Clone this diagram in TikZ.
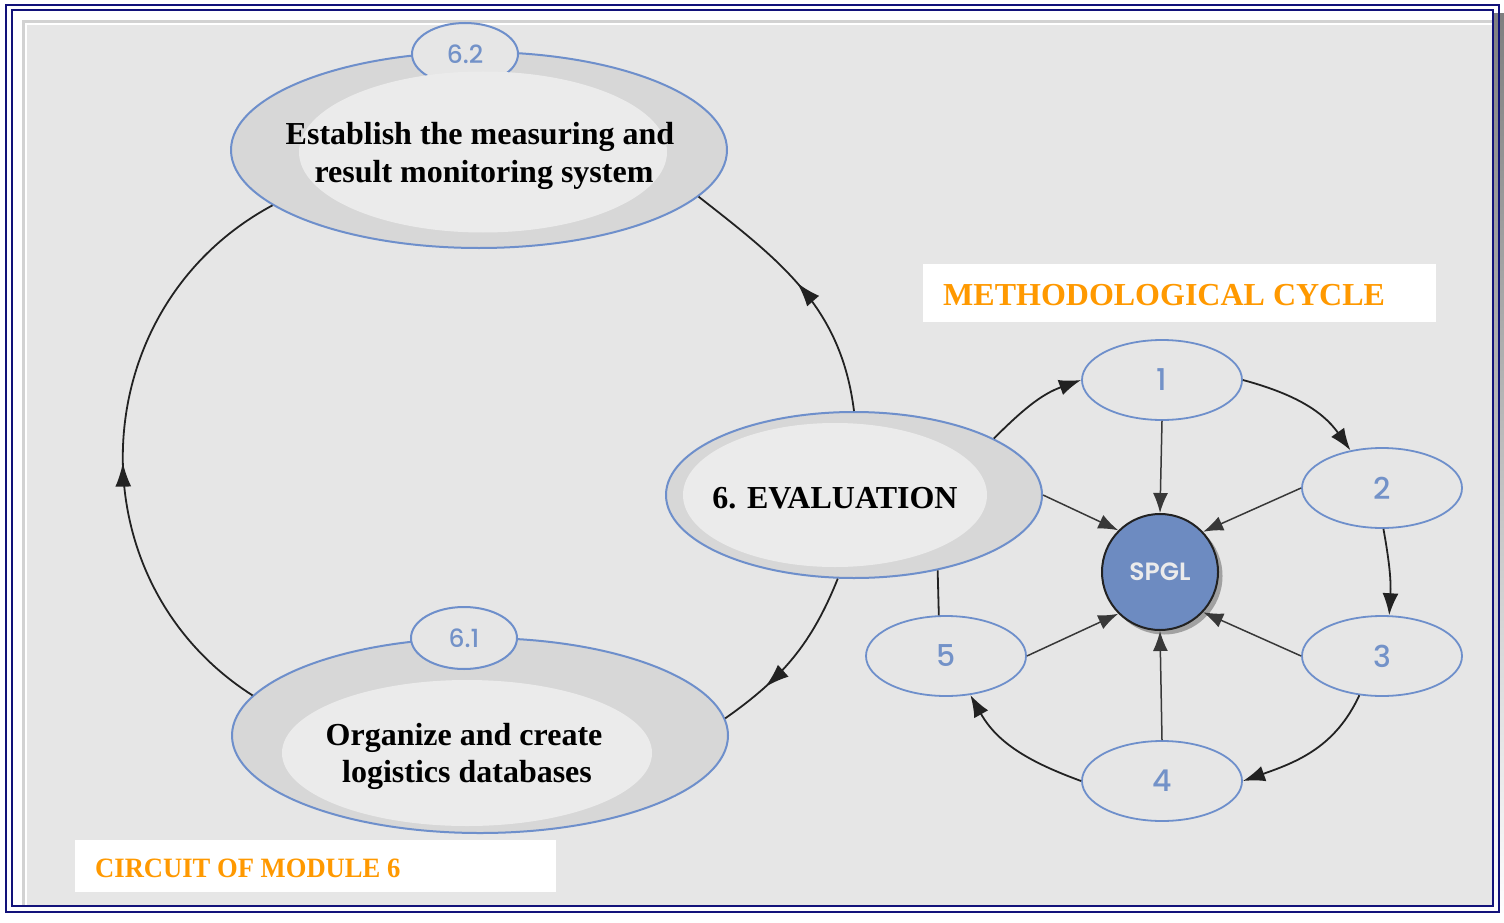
\documentclass[tikz,border=0pt]{standalone}
\usepackage{fontspec}
\setmainfont{Liberation Serif}
\newfontfamily\geo{Poppins Medium}
\newfontfamily\geobold{Poppins SemiBold}
\newfontfamily\narrowserif[FakeStretch=0.95]{Liberation Serif}
\usetikzlibrary{shapes.geometric,arrows.meta,decorations.markings}

\definecolor{navy}{HTML}{12127A}
\definecolor{shade}{HTML}{A0A0A0}
\definecolor{rim}{HTML}{D2D2D2}
\definecolor{panel}{HTML}{E6E6E6}
\definecolor{ring}{HTML}{D7D7D7}
\definecolor{core}{HTML}{EBEBEB}
\definecolor{edgeblue}{HTML}{6E8FCB}
\definecolor{numblue}{HTML}{7392C8}
\definecolor{hub}{HTML}{6D8BC1}
\definecolor{accent}{HTML}{FF9900}
\definecolor{ink}{HTML}{222222}

\tikzset{
  outerring/.style={ellipse, draw=edgeblue, line width=2pt, fill=ring, inner sep=0pt},
  innercore/.style={ellipse, fill=core, inner sep=0pt},
  tagnode/.style={ellipse, draw=edgeblue, line width=2pt, fill=panel, inner sep=0pt,
    minimum width=106, minimum height=62, text=numblue, font=\geo\fontsize{25}{25}\selectfont},
  stagenode/.style={ellipse, draw=edgeblue, line width=1.8pt, fill=panel, inner sep=0pt,
    minimum width=160, minimum height=80, text=numblue, font=\geo\fontsize{30}{30}\selectfont},
  caption/.style={anchor=base, inner sep=0pt, font=\bfseries\fontsize{32}{37}\selectfont},
  titletext/.style={anchor=base west, inner sep=0pt, text=accent},
  flow/.style={draw=ink, line width=1.8pt},
  spoke/.style={draw=ink!90, line width=1.5pt, -{Latex[length=20pt,width=15pt]}},
  cyclearrow/.style={draw=ink, line width=1.8pt, -{Latex[length=22pt,width=16pt]}},
  midarrow/.style={postaction={decorate}, decoration={markings,
    mark=at position #1 with {\arrow{Latex[length=24pt,width=16pt]}}}},
}

\begin{document}
\begin{tikzpicture}[x=1pt,y=-1pt]
\useasboundingbox (0,0) rectangle (1504,923);

% page frame: shadow, double navy rule, inner panel
\fill[white] (0,0) rectangle (1504,923);
\fill[shade] (20,14) rectangle (1504,923);
\fill[white] (4,3) rectangle (1492,905);
\draw[navy, line width=2pt] (6,5) rectangle (1499,912);
\draw[navy, line width=2pt] (12,10) rectangle (1493,906);
\fill[rim] (22,20) rectangle (1492,905);
\fill[white] (25,23) rectangle (1492,905);
\fill[panel] (27,25) rectangle (1492,905);

% module 6 circuit
\node[outerring, minimum width=496, minimum height=196] (meas) at (479,150) {};
\node[tagnode] (tag62) at (465,54) {6.2};
\node[innercore, minimum width=368, minimum height=161] (measin) at (483,152) {};
\node[caption] (measa) at (480,145) {Establish the measuring and};
\node[caption] (measb) at (484,182) {result monitoring system};

\node[outerring, minimum width=496, minimum height=195] (dbase) at (480,735.5) {};
\node[tagnode] (tag61) at (464,638) {6.1};
\node[innercore, minimum width=370, minimum height=146] (dbasein) at (467,753) {};
\node[caption] (dbasea) at (464,745) {Organize and create};
\node[caption] (dbaseb) at (467,782) {logistics databases};

\node[outerring, minimum width=376, minimum height=166] (eval) at (854,495) {};
\node[innercore, minimum width=304, minimum height=144] (evalin) at (835,495) {};
\node[caption] (evaltext) at (835,508) {6. EVALUATION};

\draw[flow, midarrow=0.52] (eval.north) .. controls +(-13,-104) and +(83,65) .. (meas.-12);
\draw[flow, midarrow=0.47] (dbase.170) .. controls +(-182,-116) and +(-190,102) .. (meas.195);
\draw[flow, midarrow=0.72] (eval.-101) .. controls +(-26,65) and +(57,-40) .. (dbase.4);

% methodological cycle
\node[circle, fill=black!55, opacity=0.6, minimum size=117, inner sep=0pt] (hubshadow) at (1164,576) {};
\node[circle, fill=hub, draw=ink, line width=2pt, minimum size=116, inner sep=0pt,
  text=white!92!black, font=\geobold\fontsize{25}{25}\selectfont] (spgl) at (1160,572) {SPGL};

\node[stagenode] (n1) at (1162,380) {1};
\node[stagenode] (n2) at (1382,488) {2};
\node[stagenode] (n3) at (1382,656) {3};
\node[stagenode] (n4) at (1162,781) {4};
\node[stagenode] (n5) at (946,656) {5};

\draw[cyclearrow] (eval.22) .. controls +(30,-30) and +(-39,14) .. (n1.west);
\draw[cyclearrow] (n1.east) .. controls +(48,13) and +(-29,-41) .. (n2.130);
\draw[cyclearrow] (n2.-88) .. controls +(6,33) and +(2,-34) .. (n3.80);
\draw[cyclearrow] (n3.240) .. controls +(-24,52) and +(54,-19) .. (n4.east);
\draw[cyclearrow] (n4.west) .. controls +(-52,-19) and +(27,48) .. (n5.-58);
\draw[flow] (n5.100) -- (eval.-42);

\draw[spoke] (n1.south) -- (spgl.north);
\draw[spoke] (n2.west) -- (spgl.43);
\draw[spoke] (n3.west) -- (spgl.-43);
\draw[spoke] (n4.north) -- (spgl.south);
\draw[spoke] (n5.east) -- (spgl.-135);
\draw[spoke] (eval.east) -- (spgl.135);

% titles
\node[fill=white, minimum width=513, minimum height=58, inner sep=0pt] (cyclebox) at (1179.5,293) {};
\node[titletext, font=\bfseries\fontsize{32}{32}\selectfont] (cycletitle) at (943,305) {METHODOLOGICAL CYCLE};
\node[fill=white, minimum width=481, minimum height=52, inner sep=0pt] (circuitbox) at (315.5,866) {};
\node[titletext, font=\narrowserif\bfseries\fontsize{28}{28}\selectfont] (circuittitle) at (95,877) {CIRCUIT OF MODULE 6};
\end{tikzpicture}
\end{document}
